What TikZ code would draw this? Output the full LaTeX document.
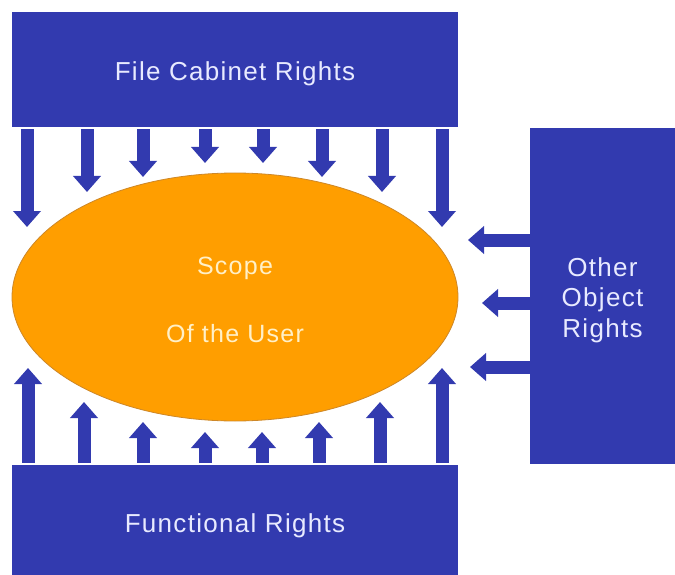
\documentclass[tikz,border=0pt]{standalone}
\usepackage{fontspec}
\setmainfont{Liberation Sans}
\newfontfamily\labfont[LetterSpace=5]{Liberation Sans}
\usetikzlibrary{arrows.meta,shapes.geometric}
\definecolor{boxblue}{RGB}{50,58,175}
\definecolor{scopeorange}{RGB}{255,158,0}
\definecolor{scopeedge}{RGB}{205,135,40}
\definecolor{bluetext}{RGB}{232,234,255}
\definecolor{creamtext}{RGB}{255,240,200}
\tikzset{
  rightsbox/.style={fill=boxblue,draw=none,inner sep=0pt,
    font=\labfont\fontsize{26}{30.5}\selectfont,text=bluetext,align=center},
  scopeellipse/.style={ellipse,fill=scopeorange,draw=scopeedge,line width=0.8pt,
    inner sep=0pt,minimum width=446pt,minimum height=248pt,
    font=\labfont\fontsize{25}{30}\selectfont,text=creamtext,align=center},
  rightarrow/.style={draw=boxblue,line width=13pt,
    -{Triangle[width=27pt,length=16pt]},fill=boxblue}
}
\begin{document}
\begin{tikzpicture}[x=1pt,y=-1pt]
\useasboundingbox (0,0) rectangle (675,575);
% boxes
\node[rightsbox,minimum width=446pt,minimum height=115pt] (top) at (235,69.5) {\rule{0pt}{27pt}File Cabinet Rights};
\node[rightsbox,minimum width=446pt,minimum height=110pt] (bot) at (235,520) {\rule{0pt}{31pt}Functional Rights};
\node[rightsbox,minimum width=145pt,minimum height=336pt] (side) at (602.5,296) {\rule{0pt}{27pt}Other\\Object\\Rights};
% ellipse
\node[scopeellipse] (scope) at (235,297) {\rule{0pt}{23pt}Scope\\[38pt]Of the User};
% arrow tips
\coordinate (t1) at (27,227);
\coordinate (t2) at (87,192);
\coordinate (t3) at (143,177);
\coordinate (t4) at (205,163);
\coordinate (t5) at (263,163);
\coordinate (t6) at (322,177);
\coordinate (t7) at (382,192);
\coordinate (t8) at (442,227);
\coordinate (b1) at (28,368);
\coordinate (b2) at (84,402);
\coordinate (b3) at (143,422);
\coordinate (b4) at (205,432);
\coordinate (b5) at (262,432);
\coordinate (b6) at (319,422);
\coordinate (b7) at (380,402);
\coordinate (b8) at (442,368);
\coordinate (r1) at (468,240);
\coordinate (r2) at (482,303);
\coordinate (r3) at (470,367);
\foreach \i in {1,...,8}{
  \draw[rightarrow] ([yshift=-2pt]t\i |- top.south) -- (t\i);
  \draw[rightarrow] ([yshift=2pt]b\i |- bot.north) -- (b\i);
}
\foreach \i in {1,2,3}{
  \draw[rightarrow] ([xshift=2pt]r\i -| side.west) -- (r\i);
}
\end{tikzpicture}
\end{document}
